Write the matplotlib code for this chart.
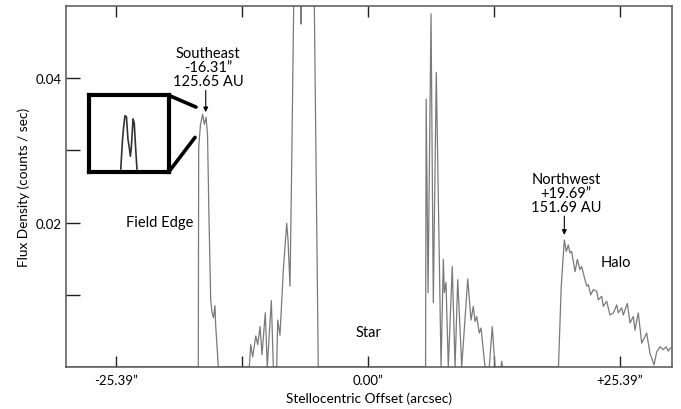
import matplotlib
matplotlib.use("Agg")
import matplotlib.pyplot as plt
from matplotlib.patches import ConnectionPatch

plt.rcParams['font.family'] = ['Lato', 'DejaVu Sans']

# ---- data (arcsec offset, flux counts/sec) ----
offset = [-30.5, -17.10, -17.06, -16.88, -16.66, -16.49, -16.32, -16.17, -16.02, -15.85,
          -15.72, -15.57, -15.42, -15.35, -15.08,
          -11.96, -11.82, -11.62, -11.31, -11.11, -10.88, -10.68, -10.35, -10.15, -9.74,
          -9.54, -9.20, -9.10, -8.87, -8.53, -8.19, -8.06, -7.86, -7.69, -7.53, -7.25,
          -6.85, -6.75, -6.65, -5.60, -5.01,
          5.80, 5.86, 6.05, 6.35, 6.58, 6.88, 7.36, 7.59, 7.69, 7.86, 8.09, 8.49, 8.77,
          9.04, 9.37, 9.44, 10.05, 10.38, 10.61, 10.78, 10.95, 11.21, 11.39, 11.79, 12.22,
          12.52, 12.80, 13.40, 13.47, 13.55,
          19.19, 19.47, 19.78, 19.98, 20.18, 20.35, 20.52, 20.86, 21.09, 21.36, 21.53,
          21.86, 22.04, 22.20, 22.44, 22.70, 23.04, 23.20, 23.55, 23.71, 24.05, 24.38,
          24.72, 25.06, 25.22, 25.56, 25.72, 26.13, 26.40, 26.73, 26.90, 27.23, 27.58,
          28.08, 28.41, 28.82, 29.09, 29.42, 29.75, 30.03, 30.26, 30.43, 30.73]
flux = [0.0, 0.0, 0.0304, 0.0336, 0.0350, 0.0336, 0.0346, 0.0322, 0.0204, 0.0093,
        0.0076, 0.0068, 0.0085, 0.0058, 0.0,
        0.0, 0.0031, 0.0014, 0.0043, 0.0031, 0.0056, 0.0017, 0.0075, 0.0, 0.0092,
        0.0, 0.0, 0.0065, 0.0044, 0.0135, 0.0199, 0.0176, 0.0112, 0.0278, 0.0454, 0.075,
        0.075, 0.0475, 0.075, 0.074, 0.0,
        0.0, 0.0371, 0.0103, 0.0489, 0.0089, 0.0408, 0.0, 0.0149, 0.0103, 0.0117, 0.0,
        0.0139, 0.0, 0.0121, 0.0024, 0.0, 0.0122, 0.0065, 0.0084, 0.0063, 0.0070, 0.0047,
        0.0054, 0.0, 0.0, 0.0056, 0.0, 0.0, 0.0008, 0.0,
        0.0, 0.0112, 0.0176, 0.0160, 0.0169, 0.0158, 0.0160, 0.0132, 0.0149, 0.0135,
        0.0139, 0.0121, 0.0112, 0.0114, 0.0100, 0.0107, 0.0105, 0.0093, 0.0098, 0.0084,
        0.0091, 0.0072, 0.0075, 0.0086, 0.0075, 0.0082, 0.0072, 0.0088, 0.0061, 0.0070,
        0.0051, 0.0075, 0.0033, 0.0047, 0.0019, 0.0003, 0.0021, 0.0028, 0.0024, 0.0028,
        0.0022, 0.0026, 0.0027]

# zoomed view of the southeast double peak (inset)
inset_offset = [-16.76, -16.70, -16.67, -16.62, -16.57, -16.52, -16.47, -16.44, -16.41,
                -16.35, -16.31, -16.27, -16.22]
inset_flux = [0.0300, 0.0328, 0.0338, 0.0350, 0.0349, 0.0328, 0.0319, 0.0312, 0.0319,
              0.0347, 0.0343, 0.0323, 0.0300]

xtick_vals = [-25.39, -12.695, 0.0, 12.695, 25.39]
xtick_labels = ['-25.39\u201d', '', '0.00\u201d', '', '+25.39\u201d']
ytick_vals = [0.01, 0.02, 0.03, 0.04]
ytick_labels = ['', '0.02', '', '0.04']

se_peak = (-16.35, 0.0353)
nw_peak = (19.78, 0.0183)

fig = plt.figure(figsize=(6.81, 4.10), dpi=100)
ax = fig.add_axes([66/681, 1-368/410, 606/681, 361/410])

ax.plot(offset, flux, color='#7a7a7a', lw=0.9)
ax.set_xlim(-30.43, 30.63)
ax.set_ylim(0, 0.05)

ax.set_xticks(xtick_vals)
ax.set_xticklabels(xtick_labels)
ax.set_yticks(ytick_vals)
ax.set_yticklabels(ytick_labels)
ax.tick_params(axis='x', direction='in', length=8, width=1.0, top=True, pad=5,
               labelsize=9.5, color='#222')
ax.tick_params(axis='y', direction='in', length=10, width=1.0, pad=3,
               labelsize=9.5, color='#222')
for s in ax.spines.values():
    s.set_color('#555')
    s.set_linewidth(1.1)

ax.set_xlabel('Stellocentric Offset (arcsec)', fontsize=9.8, labelpad=4)
ax.set_ylabel('Flux Density (counts / sec)', fontsize=9.8, labelpad=4)

# annotations
arrow_kw = dict(arrowstyle='-|>', color='black', lw=0.8, mutation_scale=7,
                shrinkA=0, shrinkB=0)
ax.annotate('', xy=se_peak, xytext=(se_peak[0], 0.0383), arrowprops=arrow_kw)
ax.text(-16.1, 0.0386, 'Southeast\n-16.31\u201d\n125.65 AU', ha='center', va='bottom',
        fontsize=10.5, linespacing=1.0)
ax.annotate('', xy=nw_peak, xytext=(nw_peak[0], 0.0209), arrowprops=arrow_kw)
ax.text(19.95, 0.0212, 'Northwest\n+19.69\u201d\n151.69 AU', ha='center', va='bottom',
        fontsize=10.5, linespacing=1.0)
ax.text(-20.95, 0.0201, 'Field Edge', ha='center', va='center', fontsize=10.5)
ax.text(0.0, 0.0049, 'Star', ha='center', va='center', fontsize=10.5)
ax.text(24.99, 0.0146, 'Halo', ha='center', va='center', fontsize=10.5)

# inset
axin = fig.add_axes([88.7/681, 1-173/410, 80/681, 76.7/410])
axin.plot(inset_offset, inset_flux, color='#333', lw=1.2)
axin.set_xlim(-17.83, -15.16)
axin.set_ylim(0.02972, 0.03691)
axin.set_xticks([])
axin.set_yticks([])
for s in axin.spines.values():
    s.set_color('black')
    s.set_linewidth(3.0)

for corner, target in [((1, 1), (-17.33, 0.0360)), ((1, 0), (-17.43, 0.0318))]:
    cp = ConnectionPatch(xyA=corner, coordsA=axin.transAxes, xyB=target,
                         coordsB=ax.transData, color='black', lw=2.6)
    fig.add_artist(cp)

fig.savefig('out.png', dpi=100)
